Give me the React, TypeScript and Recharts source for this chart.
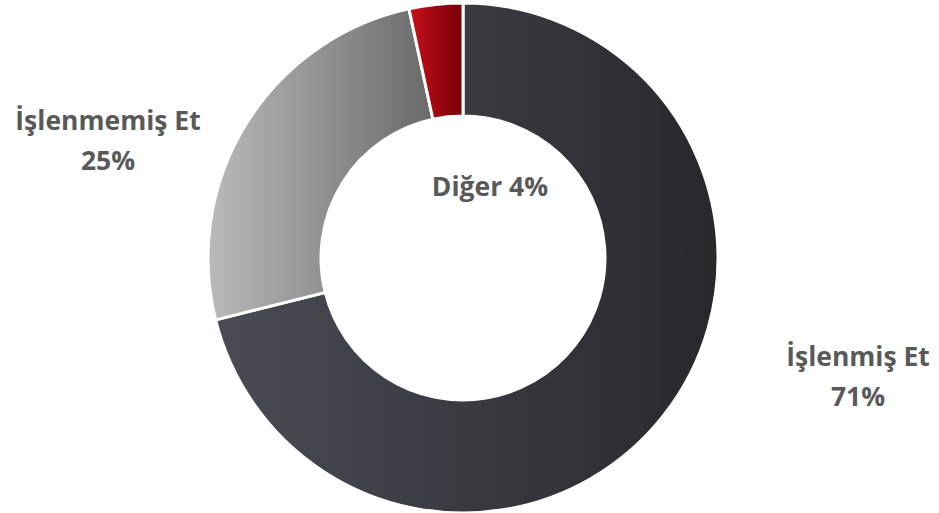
import React from "react";
import { PieChart, Pie, Cell } from "recharts";

const categories = ["İşlenmiş Et", "İşlenmemiş Et", "Diğer"];
const shares = [71.1, 25.5, 3.4];
const labelLines: string[][] = [["İşlenmiş Et", "71%"], ["İşlenmemiş Et", "25%"], ["Diğer 4%"]];

const data = categories.map((name, i) => ({ name, value: shares[i] }));

const gradients = [
  { id: "g0", from: "#4b4b55", to: "#28282c" },
  { id: "g1", from: "#bababa", to: "#6a6a6a" },
  { id: "g2", from: "#c8101c", to: "#760008" },
];

// label anchor offsets relative to pie center (layout only)
const labelOffsets = [
  { dx: 395, dy: 108 },
  { dx: -355, dy: -128 },
  { dx: 27, dy: -62 },
];

const FONT = "Open Sans, sans-serif";

const renderLabel = (props: any) => {
  const { cx, cy, index } = props;
  const off = labelOffsets[index];
  const lines = labelLines[index];
  return (
    <text
      key={`lbl-${index}`}
      x={cx + off.dx}
      y={cy + off.dy}
      textAnchor="middle"
      fill="#595959"
      fontFamily={FONT}
      fontWeight={700}
      fontSize={26.5}
    >
      {lines.map((l, j) => (
        <tspan key={j} x={cx + off.dx} dy={j === 0 ? 0 : 40}>
          {l}
        </tspan>
      ))}
    </text>
  );
};

export default function App() {
  return (
    <div style={{ position: "absolute", left: 0, top: 0, width: 939, height: 513, background: "#fff" }}>
      <PieChart width={939} height={513} margin={{ top: 0, right: 0, bottom: 0, left: 0 }}>
        <defs>
          {gradients.map((g) => (
            <linearGradient key={g.id} id={g.id} x1="0" y1="0" x2="1" y2="0">
              <stop offset="0%" stopColor={g.from} />
              <stop offset="100%" stopColor={g.to} />
            </linearGradient>
          ))}
        </defs>
        <Pie
          data={data}
          dataKey="value"
          nameKey="name"
          cx={463}
          cy={258}
          innerRadius={142}
          outerRadius={255}
          startAngle={90}
          endAngle={-270}
          stroke="#ffffff"
          strokeWidth={3}
          label={renderLabel}
          labelLine={false}
          isAnimationActive={false}
        >
          {data.map((d, i) => (
            <Cell key={d.name} fill={`url(#${gradients[i].id})`} />
          ))}
        </Pie>
      </PieChart>
    </div>
  );
}
